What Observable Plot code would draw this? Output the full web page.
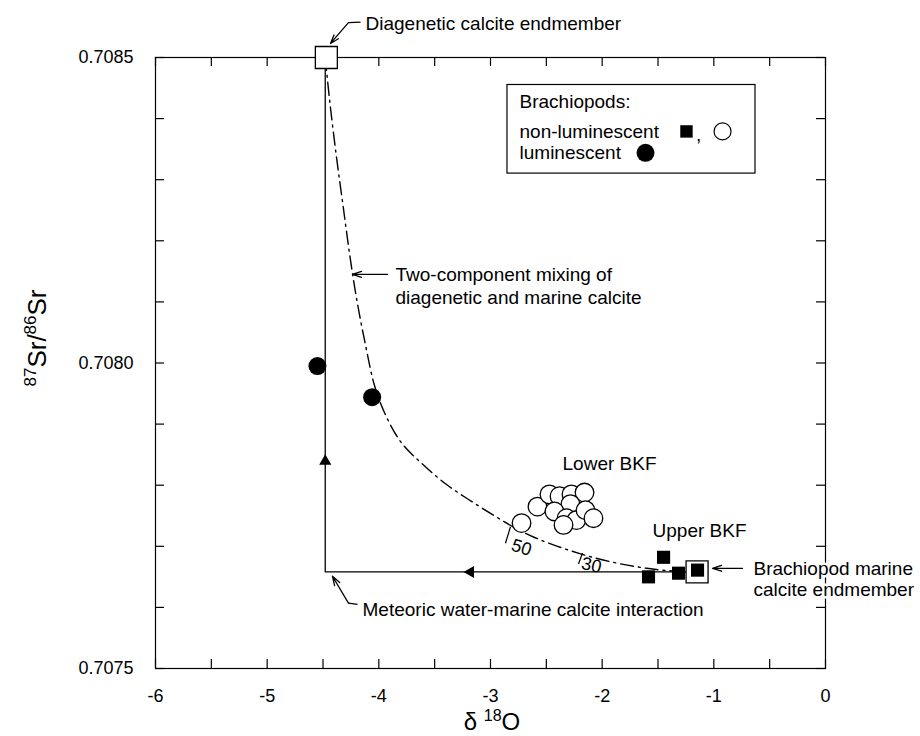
<!DOCTYPE html>
<html><head><meta charset="utf-8">
<script src="https://cdn.jsdelivr.net/npm/d3@7"></script>
<script src="https://cdn.jsdelivr.net/npm/@observablehq/plot@0.6"></script>
<style>body{margin:0;background:#fff} #chart{width:920px;height:736px}</style>
</head><body><div id="chart"></div>
<script>
// ---- data ----
const lumX = [-4.55, -4.06];
const lumY = [0.707995, 0.707944];
const openX = [-2.722, -2.579, -2.472, -2.382, -2.275, -2.158, -2.284, -2.427, -2.319, -2.230, -2.346, -2.149, -2.078];
const openY = [0.707738, 0.707765, 0.707785, 0.707782, 0.707785, 0.707788, 0.707769, 0.707757, 0.707746, 0.707743, 0.707735, 0.707759, 0.707746];
const sqX = [-1.45, -1.585, -1.316, -1.146];
const sqY = [0.707682, 0.707650, 0.707656, 0.707661];
const endX = [-4.47, -1.15];
const endY = [0.7085, 0.707658];
const pathX = [-4.48, -4.48, -1.15];
const pathY = [0.7085, 0.707658, 0.707658];
const curveX = [-4.48, -4.44, -4.38, -4.32, -4.26, -4.20, -4.12, -4.04, -3.95, -3.80, -3.60, -3.40, -3.20, -3.00, -2.80, -2.60, -2.40, -2.20, -2.00, -1.80, -1.60, -1.40, -1.15];
const curveY = [0.70850, 0.708429, 0.708338, 0.708257, 0.708176, 0.708106, 0.708030, 0.707964, 0.707919, 0.707870, 0.707833, 0.707802, 0.707777, 0.707754, 0.707732, 0.707714, 0.707700, 0.707688, 0.707678, 0.707670, 0.707664, 0.707660, 0.707658];
const xTicks = [-6, -5, -4, -3, -2, -1, 0];
const xMinor = [-6, -5.5, -5, -4.5, -4, -3.5, -3, -2.5, -2, -1.5, -1, -0.5, 0];
const yTicks = [0.7075, 0.7080, 0.7085];
const yMinor = [0.7075, 0.7076, 0.7077, 0.7078, 0.7079, 0.7080, 0.7081, 0.7082, 0.7083, 0.7084, 0.7085];

// annotations
const notes = [
  {x: -4.119, y: 0.708556, text: "Diagenetic calcite endmember"},
  {x: -3.851, y: 0.708127, text: "Two-component mixing of\ndiagenetic and marine calcite"},
  {x: -2.355, y: 0.707836, text: "Lower BKF"},
  {x: -1.549, y: 0.707727, text: "Upper BKF"},
  {x: -4.146, y: 0.707597, text: "Meteoric water-marine calcite interaction"}
];
const marineNote = [{x: -0.645, y: 0.707647, text: "Brachiopod marine\ncalcite endmember"}];
const arrows = [
  {x1: -4.272, y1: 0.708557, x2: -4.433, y2: 0.708523},
  {x1: -3.922, y1: 0.708145, x2: -4.236, y2: 0.708145},
  {x1: -0.743, y1: 0.707664, x2: -1.012, y2: 0.707664},
  {x1: -4.272, y1: 0.707607, x2: -4.415, y2: 0.707651}
];
const hooks = [
  {x1: -4.164, y1: 0.708558, x2: -4.272, y2: 0.708557},
  {x1: -4.191, y1: 0.707605, x2: -4.272, y2: 0.707607}
];
const flowArrows = [
  {x: -4.48, y: 0.707839, rotate: 0},
  {x: -3.179, y: 0.707658, rotate: -90}
];
const fracTicks = [
  {x1: -2.866, y1: 0.707705, x2: -2.821, y2: 0.707732},
  {x1: -2.212, y1: 0.707671, x2: -2.176, y2: 0.707689}
];
const fracLabels = [
  {x: -2.722, y: 0.707698, text: "50", rotate: 18},
  {x: -2.096, y: 0.707669, text: "30", rotate: 12}
];
const legendBox = [{x1: -2.848, x2: -0.627, y1: 0.708455, y2: 0.708310}];
const legendText = [
  {x: -2.74, y: 0.708428, text: "Brachiopods:"},
  {x: -2.74, y: 0.708379, text: "non-luminescent"},
  {x: -2.74, y: 0.708344, text: "luminescent"},
  {x: -1.16, y: 0.708373, text: ","}
];
const legSq = [{x: -1.245, y: 0.708379}];
const legOpen = [{x: -0.922, y: 0.708379}];
const legLum = [{x: -1.612, y: 0.708344}];

const W = 920, H = 736, mL = 155, mR = 95, mT = 57, mB = 68;
const fw = W - mL - mR, fh = H - mT - mB;
const font = "Liberation Sans, Arial, Helvetica, sans-serif";

const curve = curveX.map((x, i) => ({x, y: curveY[i]}));
const path = pathX.map((x, i) => ({x, y: pathY[i]}));
const opens = openX.map((x, i) => ({x, y: openY[i]}));
const lums = lumX.map((x, i) => ({x, y: lumY[i]}));
const sqs = sqX.map((x, i) => ({x, y: sqY[i]}));
const ends = endX.map((x, i) => ({x, y: endY[i]}));

const svg = Plot.plot({
  width: W, height: H,
  marginLeft: mL, marginRight: mR, marginTop: mT, marginBottom: mB,
  style: {fontFamily: font, background: "white", color: "black", overflow: "visible"},
  x: {domain: [-6, 0]},
  y: {domain: [0.7075, 0.7085]},
  marks: [
    Plot.frame({stroke: "black", strokeWidth: 1.2}),
    Plot.tickX(xMinor, {x: d => d, insetTop: fh - 9, strokeWidth: 1.2}),
    Plot.tickX(xMinor, {x: d => d, insetBottom: fh - 9, strokeWidth: 1.2}),
    Plot.tickY(yMinor, {y: d => d, insetRight: fw - 9, strokeWidth: 1.2}),
    Plot.tickY(yMinor, {y: d => d, insetLeft: fw - 9, strokeWidth: 1.2}),
    Plot.axisX(xTicks, {tickSize: 0, tickPadding: 21, fontSize: 18, tickFormat: d => String(d), label: null}),
    Plot.axisY(yTicks, {tickSize: 0, tickPadding: 22, fontSize: 18, tickFormat: d3.format(".4f"), label: null}),
    Plot.line(path, {x: "x", y: "y", stroke: "black", strokeWidth: 1.3}),
    Plot.line(curve, {x: "x", y: "y", stroke: "black", strokeWidth: 1.4, strokeDasharray: "13,5,2,5", curve: "catmull-rom"}),
    Plot.dot(flowArrows, {x: "x", y: "y", rotate: "rotate", symbol: "triangle", r: 4.5, fill: "black"}),
    Plot.link(fracTicks, {x1: "x1", y1: "y1", x2: "x2", y2: "y2", stroke: "black", strokeWidth: 1.2}),
    Plot.text(fracLabels, {x: "x", y: "y", text: "text", rotate: "rotate", fontSize: 18, textAnchor: "middle"}),
    Plot.dot(opens, {x: "x", y: "y", r: 9.3, fill: "white", stroke: "black", strokeWidth: 1.3}),
    Plot.dot(lums, {x: "x", y: "y", r: 9, fill: "black"}),
    Plot.dot(ends, {x: "x", y: "y", symbol: "square", r: 12.4, fill: "white", stroke: "black", strokeWidth: 1.3}),
    Plot.dot(sqs, {x: "x", y: "y", symbol: "square", r: 7.4, fill: "black"}),
    Plot.link(hooks, {x1: "x1", y1: "y1", x2: "x2", y2: "y2", stroke: "black", strokeWidth: 1.2}),
    Plot.arrow(arrows, {x1: "x1", y1: "y1", x2: "x2", y2: "y2", stroke: "black", strokeWidth: 1.3, headLength: 11, headAngle: 36}),
    Plot.text(notes, {x: "x", y: "y", text: "text", textAnchor: "start", fontSize: 19, lineHeight: 1.18}),
    Plot.text(marineNote, {x: "x", y: "y", text: "text", textAnchor: "start", fontSize: 19, lineHeight: 1.1, stroke: "white", strokeWidth: 5, fill: "black"}),
    Plot.rect(legendBox, {x1: "x1", x2: "x2", y1: "y1", y2: "y2", fill: "white", stroke: "black", strokeWidth: 1.2}),
    Plot.text(legendText, {x: "x", y: "y", text: "text", textAnchor: "start", fontSize: 19}),
    Plot.dot(legSq, {x: "x", y: "y", symbol: "square", r: 7, fill: "black"}),
    Plot.dot(legOpen, {x: "x", y: "y", r: 8.5, fill: "white", stroke: "black", strokeWidth: 1.2}),
    Plot.dot(legLum, {x: "x", y: "y", r: 9, fill: "black"})
  ]
});

const s = d3.select(svg);
const yl = s.append("text").attr("transform", "translate(46,338) rotate(-90)")
  .attr("text-anchor", "middle").attr("font-size", 26).attr("font-family", font).attr("fill", "black");
yl.append("tspan").attr("font-size", 17).attr("dy", -10).text("87");
yl.append("tspan").attr("dy", 10).text("Sr/");
yl.append("tspan").attr("font-size", 17).attr("dy", -10).text("86");
yl.append("tspan").attr("dy", 10).text("Sr");
const xl = s.append("text").attr("transform", "translate(492,730)")
  .attr("text-anchor", "middle").attr("font-size", 24).attr("font-family", font).attr("fill", "black");
xl.append("tspan").text("δ ");
xl.append("tspan").attr("font-size", 16).attr("dy", -9).text("18");
xl.append("tspan").attr("dy", 9).text("O");

document.getElementById("chart").appendChild(svg);
</script></body></html>
